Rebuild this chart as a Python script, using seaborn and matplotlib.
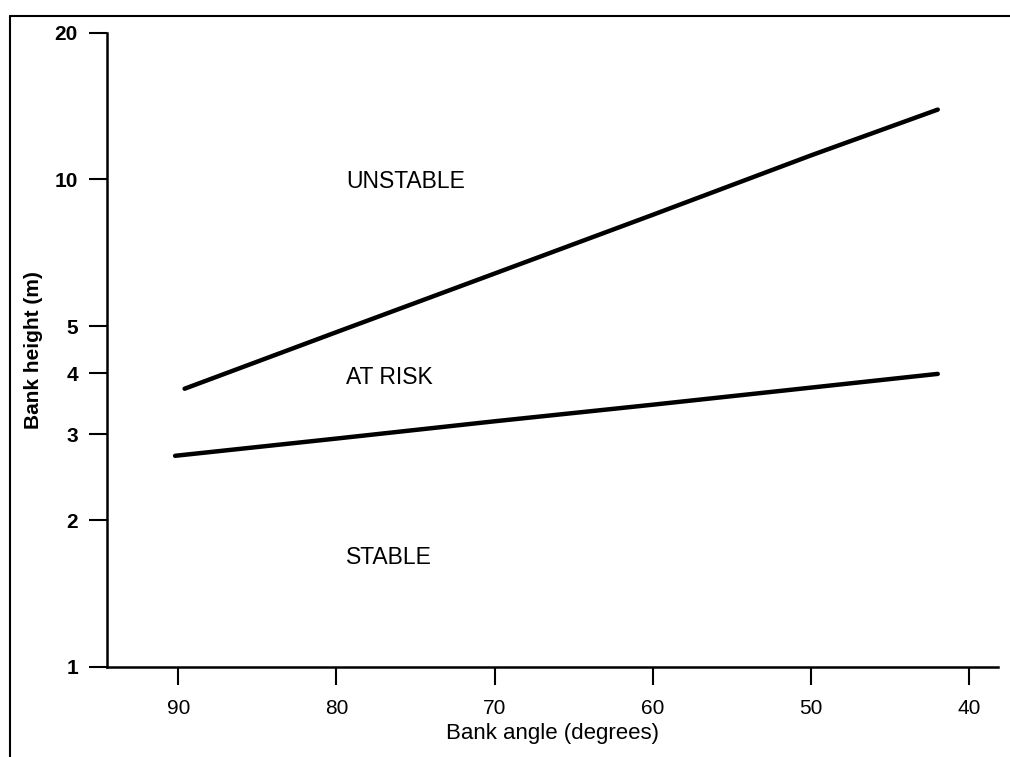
import numpy as np
import pandas as pd
import matplotlib
matplotlib.use("Agg")
import matplotlib.pyplot as plt
from matplotlib.lines import Line2D
import seaborn as sns

# Threshold curves
angle_upper = [89.6, 80, 70, 60, 50, 42]
height_upper = [3.72, 4.86, 6.41, 8.46, 11.2, 13.9]
angle_lower = [90.2, 80, 70, 60, 50, 42]
height_lower = [2.71, 2.94, 3.19, 3.45, 3.74, 3.99]

x_ticks = [90, 80, 70, 60, 50, 40]
y_ticks = [1, 2, 3, 4, 5, 10, 20]

region_labels = ["UNSTABLE", "AT RISK", "STABLE"]
region_x = [79.4, 79.4, 79.4]
region_y = [9.9, 3.92, 1.68]

df = pd.concat([
    pd.DataFrame({'angle': angle_upper, 'height': height_upper, 'curve': 'upper'}),
    pd.DataFrame({'angle': angle_lower, 'height': height_lower, 'curve': 'lower'}),
])

sns.set_style("ticks", rc={'text.color': 'black', 'axes.labelcolor': 'black',
                           'xtick.color': 'black', 'ytick.color': 'black',
                           'axes.edgecolor': 'black'})
plt.rcParams['font.family'] = ['Liberation Sans', 'DejaVu Sans']

fig = plt.figure(figsize=(10.1, 7.57), dpi=100)
ax = fig.add_axes([0.106, 0.119, 0.882, 0.838])

sns.lineplot(data=df, x='angle', y='height', hue='curve', units='curve', estimator=None,
             palette={'upper': 'black', 'lower': 'black'}, linewidth=3.2,
             legend=False, sort=False, ax=ax)

ax.set_yscale('log')
ax.set_ylim(1, 20)
ax.set_xlim(94.5, 38.2)
ax.set_xticks(x_ticks)
ax.set_xticklabels([str(v) for v in x_ticks], fontsize=15)
ax.set_yticks(y_ticks)
ax.set_yticklabels([str(v) for v in y_ticks], fontsize=15, fontweight='bold')
ax.yaxis.set_minor_locator(matplotlib.ticker.NullLocator())
ax.tick_params(axis='y', length=13, width=1.5, pad=8)
ax.tick_params(axis='x', length=13, width=1.5, pad=10)

for s in ['top', 'right']:
    ax.spines[s].set_visible(False)
for s in ['left', 'bottom']:
    ax.spines[s].set_linewidth(1.8)

ax.set_xlabel('Bank angle (degrees)', fontsize=16, labelpad=4)
ax.set_ylabel('Bank height (m)', fontsize=15, fontweight='bold', labelpad=8)

for lab, xx, yy in zip(region_labels, region_x, region_y):
    ax.text(xx, yy, lab, fontsize=16.5, ha='left', va='center')

# scanned frame edges
fig.add_artist(Line2D([0.010, 0.010], [0.0, 0.979], color='black', lw=1.5))
fig.add_artist(Line2D([0.010, 1.0], [0.979, 0.979], color='black', lw=1.5))

fig.savefig('out.png', dpi=100)
